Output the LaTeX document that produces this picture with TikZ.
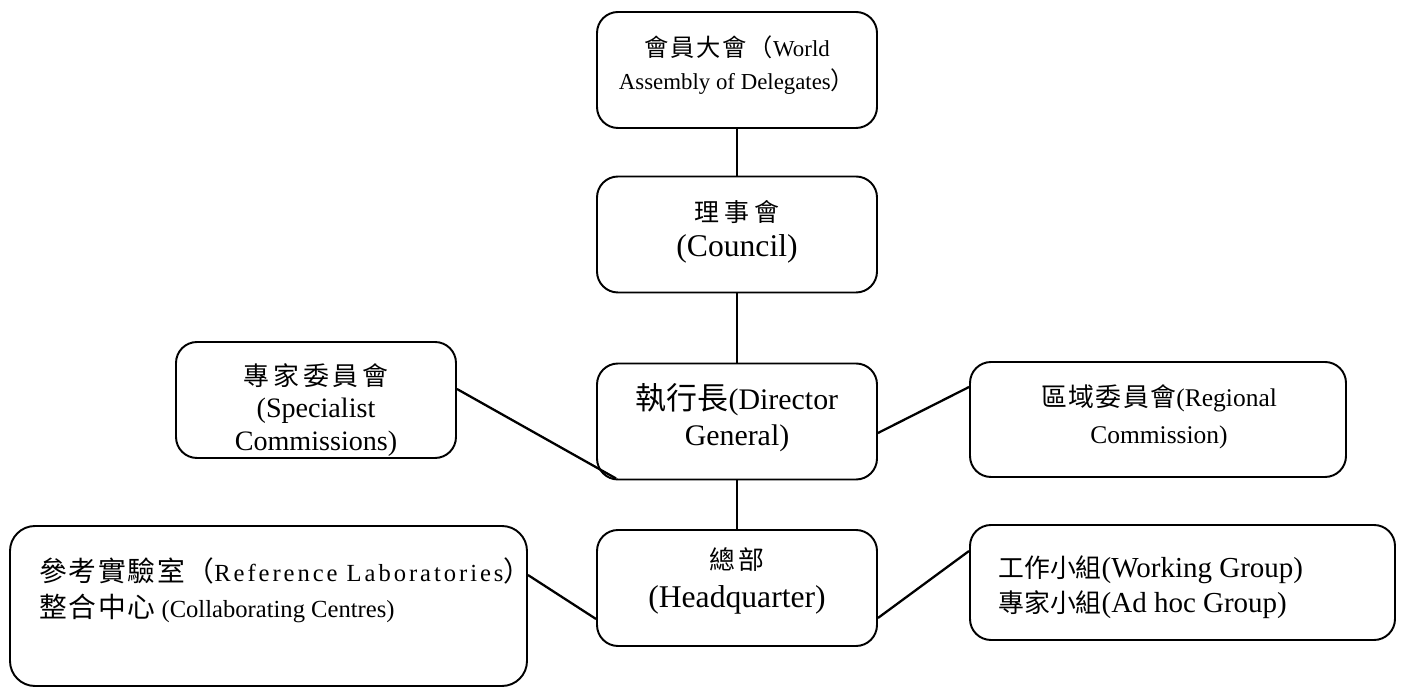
\documentclass[tikz,border=0pt]{standalone}
\usepackage{fontspec}
\setmainfont{Liberation Serif}
\newfontfamily\cjk{Noto Sans CJK TC}
\newfontfamily\refLatin{Liberation Serif}[LetterSpace=12]
% chinese text: [letter space]{size}{text}
\newcommand{\zh}[3][0]{{\cjk\fontsize{#2}{#2}\selectfont\addfontfeatures{LetterSpace=#1}#3}}
\usetikzlibrary{positioning, calc}

\begin{document}
\begin{tikzpicture}[
  box/.style={draw,line width=1.1pt,rounded corners=0.42cm,minimum width=5.6cm,minimum height=2.32cm,inner sep=0pt},
  txt/.style={inner sep=0pt,align=center},
  link/.style={line width=1.3pt}]
  \useasboundingbox (0,0) rectangle (28.16,-13.78);
  % boxes
  \node[box] (wad) at (14.74,-1.40) {};
  \node[box] (council) at (14.74,-4.69) {};
  \node[box] (dg) at (14.74,-8.43) {};
  \node[box] (hq) at (14.74,-11.76) {};
  \node[box] (spec) at (6.32,-8.00) {};
  \node[box,minimum width=7.52cm,minimum height=2.30cm] (reg) at (23.16,-8.39) {};
  \node[box,minimum width=8.50cm,minimum height=2.30cm] (wg) at (23.65,-11.65) {};
  \node[box,minimum width=10.34cm,minimum height=3.20cm,rounded corners=0.5cm] (ref) at (5.37,-12.12) {};
  % texts
  \node[txt,font=\fontsize{13}{19}\selectfont] (wadtext) at (14.74,-1.30)
    {\zh[8]{13.8}{會員大會（}World\\Assembly of Delegates\zh{13.8}{）}};
  \node[txt,font=\fontsize{18}{20}\selectfont] (counciltext) at (14.74,-4.64)
    {\zh[20]{14.2}{理事會}\\(Council)};
  \node[txt,font=\fontsize{17}{20.4}\selectfont] (dgtext) at (14.74,-8.36)
    {\zh{17.6}{執行長}(Director\\General)};
  \node[txt,font=\fontsize{18}{22}\selectfont] (hqtext) at (14.74,-11.62)
    {\zh[12]{14.7}{總部}\\(Headquarter)};
  \node[txt,font=\fontsize{16}{18.7}\selectfont] (spectext) at (6.32,-8.20)
    {\zh[15]{14.7}{專家委員會}\\(Specialist\\Commissions)};
  \node[txt,font=\fontsize{14.5}{21}\selectfont] (regtext) at (23.18,-8.34)
    {\zh[6]{14.7}{區域委員會}(Regional\\Commission)};
  \node[txt,align=left,anchor=west,font=\fontsize{16.5}{20}\selectfont] (wgtext) at (19.96,-11.74)
    {\zh{14.7}{工作小組}(Working Group)\\\zh{14.7}{專家小組}(Ad hoc Group)};
  \node[txt,align=left,anchor=west,font=\fontsize{14}{20.4}\selectfont] (reftext) at (0.78,-11.80)
    {\zh[6]{15.8}{參考實驗室（}{\refLatin Reference Laboratories}\zh{15.8}{）}\\\zh[6]{15.8}{整合中心} (Collaborating Centres)};
  % links
  \draw[link] (wad) -- (council);
  \draw[link] (council) -- (dg);
  \draw[link] (dg) -- (hq);
  \draw[link] ([yshift=0.22cm]spec.east) -- ([xshift=0.4cm,yshift=0.04cm]dg.south west);
  \draw[link] ([yshift=-0.23cm]dg.east) -- ([yshift=0.65cm]reg.west);
  \draw[link] ([yshift=0.62cm]ref.east) -- ([yshift=-0.62cm]hq.west);
  \draw[link] ([yshift=-0.6cm]hq.east) -- ([yshift=0.63cm]wg.west);
\end{tikzpicture}
\end{document}
